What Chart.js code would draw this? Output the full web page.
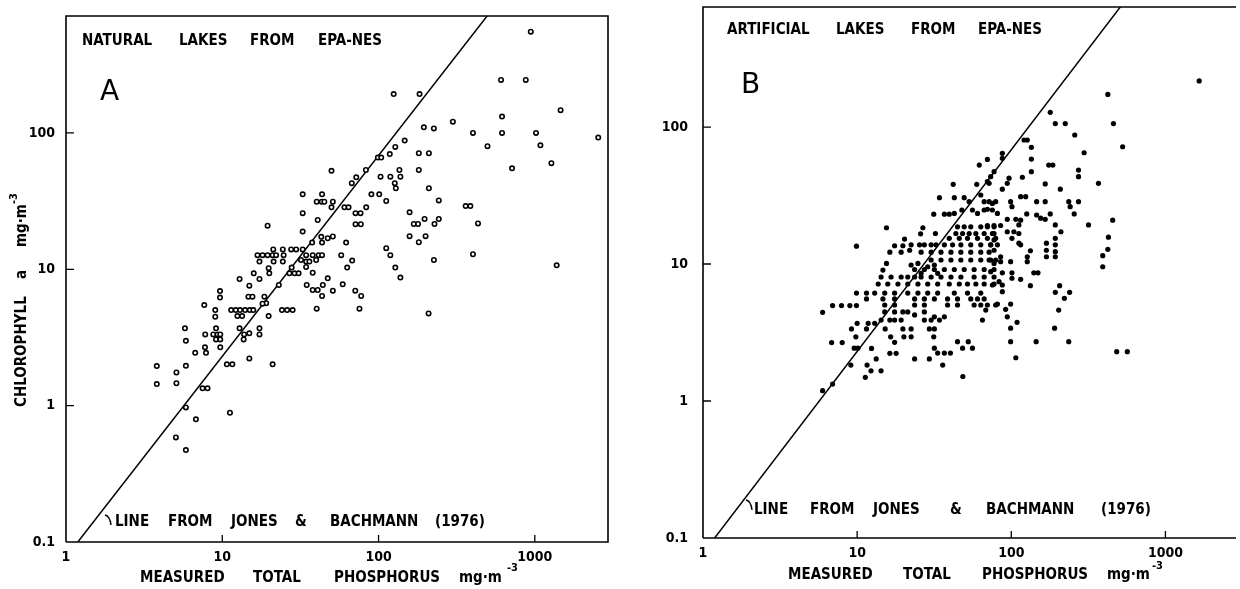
<!DOCTYPE html>
<html>
<head>
<meta charset="utf-8">
<title>Chlorophyll a vs measured total phosphorus, EPA-NES lakes</title>
<script src="https://cdn.jsdelivr.net/npm/chart.js@4.4.1/dist/chart.umd.min.js"></script>
<style>
  body { margin: 0; background: #fff; }
  .panel { position: absolute; top: 0; width: 620px; height: 589px; }
</style>
</head>
<body>
<div class="panel" style="left:0"><canvas id="chartA" width="620" height="589"></canvas></div>
<div class="panel" style="left:620px"><canvas id="chartB" width="620" height="589"></canvas></div>
<script>
// decade ticks on both log axes
const tickValuesX = [1, 10, 100, 1000];
const tickLabelsX = ['1', '10', '100', '1000'];
const tickValuesY = [0.1, 1, 10, 100];
const tickLabelsY = ['0.1', '1', '10', '100'];

// Jones & Bachmann (1976) line, two end points
const lineTP = [1.19, 700];
const lineChl = [0.1, 1200];

// A: natural lakes (open circles)
const naturalTP = [
  608, 125, 183, 299, 195, 226, 617, 617, 402, 498,
  715, 147, 128, 118, 99, 104, 181, 210, 83, 72,
  67.4, 50, 136, 181, 103, 119, 138, 127, 129, 210,
  90, 101, 112, 243, 361, 387, 433, 158, 168, 179,
  197, 228, 243, 158, 181, 200, 402, 226, 112, 119,
  128, 138, 209, 60.5, 64.3, 71.2, 76.7, 83.4, 71.2, 77,
  62, 57.7, 67.8, 63, 59, 51, 71, 77.4, 75.5, 40.2,
  32.7, 43.5, 40.2, 43.3, 45, 51, 50, 32.7, 40.8, 32.7,
  37.6, 43.5, 43, 47.3, 51, 32.7, 34.4, 37.9, 41.4, 43.5,
  34.4, 36.1, 39.9, 34.4, 37.9, 47.3, 44, 34.7, 37.9, 40.8,
  43.5,
  19.5, 21.2, 24.4, 27.6, 29.7, 16.8, 18.1, 19.5, 21, 22.1,
  24.7, 17.3, 21.3, 24.4, 19.8, 20, 27.8, 26.9, 29, 30.8,
  31.9, 15.9, 12.9, 17.3, 14.9, 23, 9.67, 9.67, 7.67, 14.7,
  15.6, 18.6, 19.1, 18.1, 9.02, 9.02, 11.4, 12.2, 13, 14,
  15, 15.8, 12.5, 13.4, 19.8, 24.1, 26, 28.2,
  5.77, 5.85, 7.78, 9.12, 8.76, 9.33, 9.71, 9.12, 9.71, 12.9,
  13.8, 14.9, 13.7, 17.3, 17.3, 7.75, 7.87, 6.71, 9.71, 14.9,
  3.81, 5.85, 5.09, 10.7, 11.6, 21, 3.81, 5.09, 7.48, 8.05,
  5.85, 6.78, 11.2, 5.05, 5.85,
  942, 875, 1462, 1018, 2546, 1086, 1277, 1380
];
const naturalChl = [
  245, 193, 193, 121, 110, 108, 132, 100, 100, 80,
  55, 88, 79, 70, 66, 66, 71, 71, 53.5, 47.3,
  42.8, 52.8, 53.5, 53.5, 47.8, 47.8, 47.8, 42.8, 39.3, 39.3,
  35.5, 35.5, 31.7, 32, 29.1, 29.1, 21.7, 26.2, 21.5, 21.5,
  23.4, 21.5, 23.4, 17.5, 15.8, 17.5, 12.9, 11.7, 14.3, 12.7,
  10.3, 8.7, 4.75, 28.5, 28.5, 25.8, 25.8, 28.5, 21.4, 21.4,
  15.7, 12.7, 11.6, 10.3, 7.76, 6.97, 6.97, 6.37, 5.14, 5.14,
  35.5, 35.5, 31.3, 31.3, 31.3, 31.3, 28.5, 25.8, 23, 18.9,
  15.7, 15.7, 17.3, 16.9, 17.4, 14, 12.7, 12.7, 12.7, 12.7,
  11.4, 11.4, 11.7, 10.4, 9.44, 8.59, 7.67, 7.67, 7.05, 7.05,
  6.37,
  20.9, 14, 14, 14, 14, 12.7, 12.7, 12.7, 12.7, 12.7,
  12.7, 11.4, 11.4, 11.4, 10.2, 9.35, 10.3, 9.35, 9.35, 9.35,
  11.7, 9.35, 8.49, 8.49, 7.59, 7.67, 6.93, 6.2, 5.47, 6.3,
  6.3, 6.3, 5.64, 5.6, 5.02, 4.49, 5.02, 5.02, 5.02, 5.02,
  5.02, 5.02, 4.54, 4.54, 4.54, 5.02, 5.02, 5.02,
  3.69, 2.99, 3.33, 3.69, 3.33, 3.33, 3.33, 3.06, 3.06, 3.69,
  3.33, 3.39, 3.06, 3.69, 3.33, 2.68, 2.44, 2.44, 2.68, 2.22,
  1.95, 1.96, 1.75, 2.01, 2.01, 2.01, 1.44, 1.46, 1.34, 1.34,
  0.97, 0.794, 0.887, 0.585, 0.472,
  553, 245, 147, 100, 92.5, 81.2, 60, 10.7
];

// B: artificial lakes (filled dots)
const artificialTP = [
  70, 62, 42, 59.7, 70, 73.5, 77.3,
  34.2, 42.7, 49.5, 53.3, 63.4, 66.7, 71.8, 79.2,
  31.4, 36.8, 39.6, 42.7, 47.8, 56, 60.4, 66.7, 75.4, 81.3,
  15.5, 26.7, 25.8, 32.2,
  44.8, 49.5, 54.6, 63.4, 70, 77.3,
  43.7, 48.3, 53.3, 58.9, 66.7, 75.4,
  39.6, 46, 52, 60.4, 70, 79.2,
  20.3, 9.9, 17.5, 19.8,
  22.4, 25.4, 27.3, 30.2, 32.5, 36.8, 41.6, 47.1, 54.6, 63.4, 73.5, 81.3,
  16.3, 19.3, 21.9,
  26, 30.2, 35, 40.6, 47.1, 54.6, 63.4, 71.8,
  15.5, 14.7, 22.4, 24.8,
  30.2, 35, 40.6, 47.1, 54.6, 63.4, 71.8, 79.2,
  23.6, 27.3, 31.7, 36.8, 42.7, 49.5, 57.4, 66.7, 77.3,
  14.3, 16.6, 19.3, 21.3, 23.6, 26, 30.2, 35, 40.6, 47.1, 57.4, 66.7, 77.3,
  13.7, 15.8, 18.4, 21.3, 24.8, 28.7, 33.3, 39.6, 46, 52, 58.9, 66.7, 77.3,
  9.9, 11.5, 13, 15.1, 17.5, 21.3, 24.8, 28.7, 33.3, 42.7, 52, 63.4,
  28.7, 31.7, 33.3, 26,
  11.5, 14.7, 17.5, 23.6, 27.3, 31.7, 38.6, 44.8, 54.6, 60.4, 66.7,
  6.93, 7.92, 8.97, 9.9, 5.97,
  15.1, 17.5, 23.6, 27.3, 38.6, 44.8, 57.4, 63.4, 79.2, 68.3,
  15.1, 17.5, 19.8, 21.3, 27.3, 23.6, 31.7, 36.8,
  14.3, 16.3, 17.5, 19.3, 27.3, 30.2, 34.2, 65,
  11.8, 13, 10,
  9.19, 11.5, 15.2, 19.8, 22.4, 29.4, 31.7,
  9.81, 16.5, 20.1, 22.4, 31.4,
  6.83, 8, 17.5, 44.8, 52.6,
  9.57, 10.1, 12.4, 31.7, 48.3, 56,
  16.3, 17.9, 33.3, 36.8, 40.3,
  23.6, 29.4, 13.3, 9.1, 11.6, 35.9,
  12.3, 14.3, 11.3, 48.5, 6.93, 5.97,
  423, 179, 193, 224, 460, 258, 121, 127, 528, 135,
  297, 87.5, 87.5, 135, 175, 186, 135, 273, 273, 118,
  96.7, 94.2, 166, 368, 87.5, 208, 71.8,
  115, 124, 99, 101, 146, 166, 236, 241, 273, 75.4, 70,
  126, 146, 155, 166, 179, 256, 94.2, 107, 115, 112, 193, 317, 455, 77.3, 85.3, 70,
  94.2, 104, 112, 101, 112, 77.3, 77.3, 73.5, 77.3, 210,
  193, 193, 193, 193, 169, 169, 169, 133, 115, 427, 423, 392, 392,
  85.3, 85.3, 99, 127, 127, 73.5, 77.3,
  87.5, 101, 140, 149, 73.5,
  75.4, 83.3, 87.5, 101, 115, 133, 87.5, 206,
  193, 221, 239, 81.3, 91.9, 99, 70, 203, 94.2, 109, 99, 191, 99, 145, 236, 107, 483, 566,
  1656
];
const artificialChl = [
  58, 52.8, 38.2, 38.2, 39.9, 43.4, 47.2,
  30.5, 30.5, 30.5, 28.5, 31.9, 28.5, 28.5, 28.5,
  23.1, 23.1, 23.1, 23.4, 24.8, 24.8, 23.4, 24.8, 24.8, 23.4,
  18.4, 18.4, 16.6, 16.7,
  18.7, 18.7, 18.7, 18.7, 18.7, 18.7,
  16.7, 16.7, 16.7, 16.7, 16.7, 16.7,
  15.4, 15.4, 15.4, 15.4, 15.4, 15.4,
  15.2, 13.5, 13.6, 13.6,
  13.8, 13.8, 13.8, 13.8, 13.8, 13.8, 13.8, 13.8, 13.8, 13.8, 13.8, 13.8,
  12.2, 12.2, 12.6,
  12.2, 12.2, 12.2, 12.2, 12.2, 12.2, 12.2, 12.2,
  10.1, 9.04, 9.84, 10.1,
  10.7, 10.7, 10.7, 10.7, 10.7, 10.7, 10.7, 10.7,
  9.12, 9.12, 9.12, 9.12, 9.12, 9.12, 9.12, 9.12, 9.12,
  8.04, 8.04, 8.04, 8.04, 8.04, 8.04, 8.04, 8.04, 8.04, 8.04, 8.04, 8.04, 8.04,
  7.15, 7.15, 7.15, 7.15, 7.15, 7.15, 7.15, 7.15, 7.15, 7.15, 7.15, 7.15, 7.15,
  6.14, 6.14, 6.14, 6.14, 6.14, 6.14, 6.14, 6.14, 6.14, 6.14, 6.14, 6.14,
  9.55, 9.84, 8.55, 8.55,
  5.56, 5.56, 5.56, 5.56, 5.56, 5.56, 5.56, 5.56, 5.56, 5.56, 5.56,
  4.97, 4.97, 4.97, 4.97, 4.44,
  5.02, 5.02, 5.02, 5.02, 5.02, 5.02, 5.02, 5.02, 5.02, 4.61,
  4.47, 4.47, 4.47, 4.47, 4.47, 4.25, 4.12, 4.12,
  3.9, 3.9, 3.9, 3.9, 3.9, 3.9, 3.9, 3.9,
  3.69, 3.69, 3.69,
  3.36, 3.36, 3.36, 3.36, 3.36, 3.36, 3.36,
  2.94, 2.94, 2.94, 2.94, 2.94,
  2.67, 2.67, 2.68, 2.71, 2.71,
  2.43, 2.43, 2.42, 2.43, 2.43, 2.43,
  2.23, 2.23, 2.24, 2.24, 2.24,
  2.03, 2.03, 2.03, 1.83, 1.83, 1.83,
  1.66, 1.66, 1.49, 1.51, 1.33, 1.19,
  173, 128, 106, 106, 106, 87.5, 80.4, 80.4, 71.8, 71.1,
  64.9, 64.3, 59.1, 58.4, 52.8, 52.8, 47.2, 48.5, 43.4, 43,
  42.3, 38.8, 38.4, 38.8, 35.2, 35.2, 38.8,
  31, 31, 28.5, 26.2, 28.5, 28.5, 28.5, 26.2, 28.5, 27.7, 25.1,
  23.2, 22.8, 21.6, 21.2, 23.2, 23.2, 21.2, 21.2, 20.9, 19.3, 19.3, 19.3, 20.9, 19.1, 19.1, 19.1,
  17.2, 17.2, 16.7, 15.4, 14.2, 16.7, 15, 13.8, 12.6, 17.2,
  15.4, 13.8, 12.3, 11.3, 14.2, 12.6, 11.3, 12.5, 13.8, 15.7, 12.8, 11.5, 9.55,
  11.3, 10.4, 10.4, 10.4, 11.3, 10.7, 10.1,
  8.63, 8.63, 8.63, 8.63, 8.79,
  7.03, 7.43, 7.03, 7.87, 7.73, 6.95, 6.28, 6.95,
  6.21, 5.62, 6.21, 5.1, 4.67, 5.1, 5.02, 4.61, 4.12, 3.75, 3.4, 3.4, 2.71, 2.71, 2.71, 2.07, 2.29, 2.29,
  217
];

const FONT = "'DejaVu Sans Condensed', 'Liberation Sans Narrow', 'DejaVu Sans', sans-serif";
const tickFont = { family: FONT, size: 14, weight: 'bold' };

function pairs(xs, ys) {
  return xs.map((x, i) => ({ x: x, y: ys[i] }));
}

function drawWords(ctx, list, y) {
  list.forEach(([t, x]) => ctx.fillText(t, x, y));
}

// frame, inward ticks and the lettering of each panel
const decor = {
  id: 'decor',
  afterDraw(chart, args, o) {
    const { ctx, chartArea: a } = chart;
    const sx = chart.scales.x, sy = chart.scales.y;
    ctx.save();
    ctx.strokeStyle = '#000';
    ctx.lineWidth = 1.6;
    ctx.beginPath();
    ctx.moveTo(a.left, a.bottom);
    ctx.lineTo(a.left, a.top);
    ctx.lineTo(a.right, a.top);
    if (o.closed) ctx.lineTo(a.right, a.bottom);
    else ctx.moveTo(a.right, a.bottom);
    ctx.lineTo(a.left, a.bottom);
    ctx.stroke();

    ctx.lineWidth = 1.3;
    ctx.beginPath();
    tickValuesX.slice(1).forEach(v => {
      const px = sx.getPixelForValue(v);
      ctx.moveTo(px, a.bottom);
      ctx.lineTo(px, a.bottom - 7);
    });
    tickValuesY.slice(1).forEach(v => {
      const py = sy.getPixelForValue(v);
      ctx.moveTo(a.left, py);
      ctx.lineTo(a.left + 8, py);
    });
    ctx.stroke();

    // little leader from the line to its note
    const h = o.hook;
    ctx.lineWidth = 1.4;
    ctx.beginPath();
    ctx.moveTo(h[0], h[1]);
    ctx.quadraticCurveTo(h[0] + 5, h[1] + 1, h[0] + 6, h[1] + 10);
    ctx.stroke();

    ctx.fillStyle = '#000';
    ctx.textBaseline = 'middle';
    ctx.textAlign = 'left';
    ctx.font = `bold 15px ${FONT}`;
    drawWords(ctx, o.header, o.headerY);
    drawWords(ctx, o.note, o.noteY);
    drawWords(ctx, o.xTitle, o.xTitleY);
    ctx.font = `bold 11px ${FONT}`;
    ctx.fillText('-3', o.xSup[0], o.xSup[1]);

    ctx.font = "28px 'DejaVu Sans', sans-serif";
    ctx.fillText(o.letter[0], o.letter[1], o.letter[2]);

    if (o.yTitle) {
      ctx.translate(22, 0);
      ctx.rotate(-Math.PI / 2);
      ctx.font = `bold 15px ${FONT}`;
      drawWords(ctx, [['CHLOROPHYLL', -407], ['a', -279], ['mg·m', -247]], 0);
      ctx.font = `bold 11px ${FONT}`;
      ctx.fillText('-3', -204, -8);
    }
    ctx.restore();
  }
};

function makeChart(id, cfg) {
  return new Chart(document.getElementById(id), {
    type: 'scatter',
    data: {
      datasets: [
        {
          data: pairs(cfg.tp, cfg.chl),
          pointRadius: cfg.radius,
          pointBorderWidth: cfg.filled ? 0 : 1.6,
          pointBorderColor: '#000',
          pointBackgroundColor: cfg.filled ? '#000' : '#fff'
        },
        {
          data: pairs(lineTP, lineChl),
          showLine: true,
          borderColor: '#000',
          borderWidth: 1.5,
          pointRadius: 0
        }
      ]
    },
    options: {
      responsive: false,
      animation: false,
      events: [],
      layout: { padding: { left: 0, top: cfg.top, right: cfg.right, bottom: 0 } },
      plugins: {
        legend: { display: false },
        tooltip: { enabled: false },
        decor: cfg.decor
      },
      scales: {
        x: {
          type: 'logarithmic',
          min: 1,
          max: cfg.xMax,
          afterBuildTicks: s => { s.ticks = tickValuesX.map(v => ({ value: v })); },
          afterFit: s => { s.height = cfg.xHeight; },
          grid: { display: false, drawTicks: false },
          border: { display: false },
          ticks: {
            autoSkip: false, maxRotation: 0, minRotation: 0,
            padding: 7, color: '#000', font: tickFont,
            callback: v => tickLabelsX[tickValuesX.indexOf(v)]
          }
        },
        y: {
          type: 'logarithmic',
          min: 0.1,
          max: cfg.yMax,
          afterBuildTicks: s => { s.ticks = tickValuesY.map(v => ({ value: v })); },
          afterFit: s => {
            s.width = cfg.yWidth;
            // the top label is far from the edge, so no extra room is needed
            s.paddingTop = 0;
            s.paddingBottom = 0;
          },
          grid: { display: false, drawTicks: false },
          border: { display: false },
          ticks: {
            autoSkip: false, padding: cfg.yPad, color: '#000', font: tickFont,
            callback: v => tickLabelsY[tickValuesY.indexOf(v)]
          }
        }
      }
    },
    plugins: [decor]
  });
}

makeChart('chartA', {
  tp: naturalTP, chl: naturalChl, filled: false, radius: 2.2,
  xMax: 2940, yMax: 721, top: 16, right: 12, yWidth: 66, xHeight: 47, yPad: 11,
  decor: {
    closed: true,
    header: [['NATURAL', 82], ['LAKES', 179], ['FROM', 250], ['EPA-NES', 318]], headerY: 41,
    note: [['LINE', 115], ['FROM', 168], ['JONES', 231], ['&', 295], ['BACHMANN', 330], ['(1976)', 435]], noteY: 522,
    xTitle: [['MEASURED', 140], ['TOTAL', 253], ['PHOSPHORUS', 334], ['mg·m', 459]], xTitleY: 578,
    xSup: [507, 568],
    letter: ['A', 100, 93],
    hook: [105, 515],
    yTitle: true
  }
});

makeChart('chartB', {
  tp: artificialTP, chl: artificialChl, filled: true, radius: 2.6,
  xMax: 2870, yMax: 752, top: 7, right: 0, yWidth: 83, xHeight: 51, yPad: 15,
  decor: {
    closed: false,
    header: [['ARTIFICIAL', 107], ['LAKES', 216], ['FROM', 291], ['EPA-NES', 358]], headerY: 30,
    note: [['LINE', 134], ['FROM', 190], ['JONES', 253], ['&', 330], ['BACHMANN', 366], ['(1976)', 481]], noteY: 510,
    xTitle: [['MEASURED', 168], ['TOTAL', 283], ['PHOSPHORUS', 362], ['mg·m', 487]], xTitleY: 575,
    xSup: [532, 566],
    letter: ['B', 121, 86],
    hook: [126, 500],
    yTitle: false
  }
});
</script>
</body>
</html>
